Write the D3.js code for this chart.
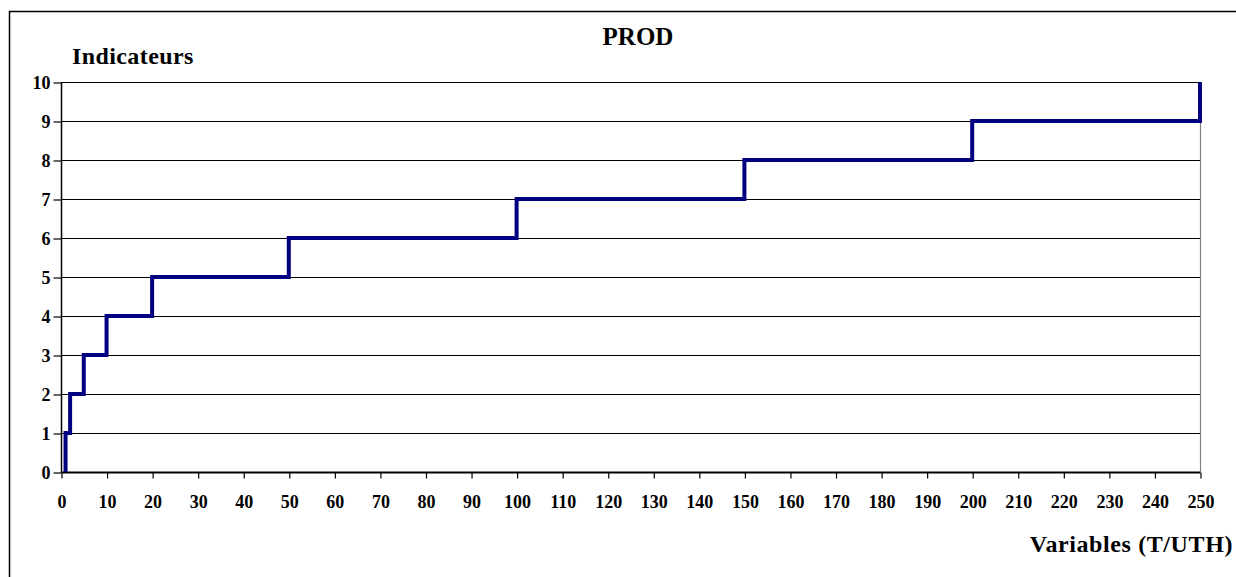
<!DOCTYPE html>
<html><head><meta charset="utf-8">
<script src="https://cdn.jsdelivr.net/npm/d3@7"></script>
<style>body{margin:0;background:#fff}svg{display:block}text{font-family:"Liberation Serif","Times New Roman",serif;font-weight:bold;fill:#000}</style>
</head><body><svg id="c" width="1236" height="577"></svg>
<script>
const title = "PROD";
const yTitle = "Indicateurs";
const xTitle = "Variables (T/UTH)";
const stepX = [1, 2, 5, 10, 20, 50, 100, 150, 200, 250];
const stepLevel = [1, 2, 3, 4, 5, 6, 7, 8, 9, 10];
const startLevel = 0;
const xTicks = d3.range(0, 251, 10);
const yTicks = d3.range(0, 11, 1);

const svg = d3.select("#c");
const L = 61, R = 1200, T = 82, B = 472;
const x = d3.scaleLinear().domain([0, 250]).range([L, R]);
const y = d3.scaleLinear().domain([0, 10]).range([B, T]);

// outer frame
svg.append("rect").attr("x", 9.5).attr("y", 11.5).attr("width", 1240).attr("height", 600)
  .attr("fill", "none").attr("stroke", "#000").attr("stroke-width", 1.5);

// gridlines
svg.append("g").selectAll("line").data(yTicks.filter(d => d > 0)).join("line")
  .attr("x1", L).attr("x2", R).attr("y1", d => y(d) + 0.5).attr("y2", d => y(d) + 0.5)
  .attr("stroke", "#000").attr("stroke-width", 1.2);
// right border (gray)
svg.append("line").attr("x1", R + 0.5).attr("x2", R + 0.5).attr("y1", T).attr("y2", B)
  .attr("stroke", "#808080").attr("stroke-width", 1.2);

// y axis
const ya = svg.append("g").attr("transform", `translate(${L + 0.5},0.5)`)
  .call(d3.axisLeft(y).tickValues(yTicks).tickSize(8).tickPadding(3).tickFormat(d3.format("d")));
ya.select(".domain").attr("stroke", "#000").attr("stroke-width", 1.5).attr("d", `M0,${T}V${B}`);
ya.selectAll(".tick line").attr("stroke", "#000").attr("stroke-width", 1.2);
ya.selectAll("text").style("font-size", "18px").attr("dy", "0.33em");

// x axis
const xa = svg.append("g").attr("transform", `translate(0.5,${B + 0.5})`)
  .call(d3.axisBottom(x).tickValues(xTicks).tickSize(6).tickPadding(17).tickFormat(d3.format("d")));
xa.select(".domain").attr("stroke", "#000").attr("stroke-width", 2.2).attr("d", `M${L},0H${R}`);
xa.selectAll(".tick line").attr("stroke", "#000").attr("stroke-width", 1.2);
xa.selectAll("text").style("font-size", "18px");

// step line
const pts = [[stepX[0], startLevel]].concat(stepX.map((v, i) => [v, stepLevel[i]]));
svg.append("path").datum(pts)
  .attr("d", d3.line().x(d => x(d[0])).y(d => y(d[1])).curve(d3.curveStepAfter))
  .attr("fill", "none").attr("stroke", "#000080").attr("stroke-width", 4)
  .attr("stroke-linejoin", "miter");

// titles
svg.append("text").attr("x", 638).attr("y", 45).attr("text-anchor", "middle")
  .style("font-size", "25px").text(title);
svg.append("text").attr("x", 72).attr("y", 64).style("font-size", "24px")
  .style("letter-spacing", "0.4px").text(yTitle);
svg.append("text").attr("x", 1233).attr("y", 552).attr("text-anchor", "end")
  .style("font-size", "24px").style("letter-spacing", "0.6px").text(xTitle);
</script></body></html>
